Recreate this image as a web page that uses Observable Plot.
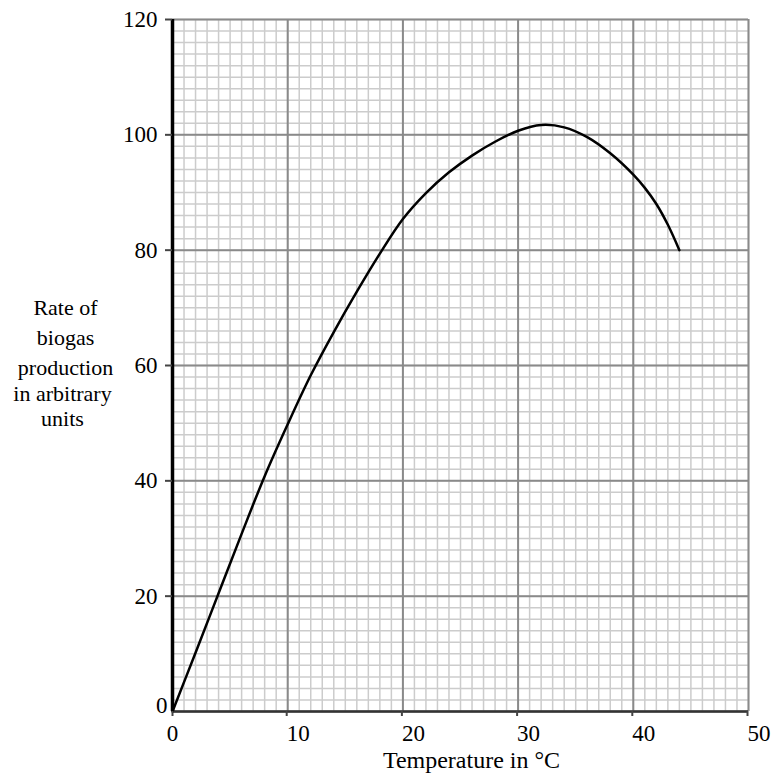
<!DOCTYPE html>
<html>
<head>
<meta charset="utf-8">
<script src="https://cdn.jsdelivr.net/npm/d3@7"></script>
<script src="https://cdn.jsdelivr.net/npm/@observablehq/plot@0.6"></script>
<style>
  html, body { margin: 0; padding: 0; background: #fff; }
</style>
</head>
<body>
<div id="chart"></div>
<script>
// Curve
const temperature = [0, 2, 4, 6, 8, 10, 12, 14, 16, 18, 20, 22, 24, 26, 28, 30, 32, 34, 36, 38, 40, 41, 42, 43, 44];
const rate        = [0, 10.2, 20.5, 30.8, 40.8, 49.8, 58.3, 65.8, 72.8, 79.4, 85.4, 89.9, 93.5, 96.4, 98.8, 100.7, 101.7, 101.3, 99.6, 96.8, 93.1, 90.8, 88.0, 84.4, 80];

// Axis ticks
const xTicks = [0, 10, 20, 30, 40, 50];
const yTicks = [0, 20, 40, 60, 80, 100, 120];
const xMinor = d3.range(0, 51, 1);
const yMinor = d3.range(0, 121, 2);

const xLabel = "Temperature in °C";
const yLabelTop = "Rate of\nbiogas\nproduction";
const yLabelBottom = "in arbitrary\nunits";

const data = temperature.map((t, i) => ({t, r: rate[i]}));

const chart = Plot.plot({
  width: 774,
  height: 784,
  marginLeft: 172,
  marginRight: 26,
  marginTop: 19,
  marginBottom: 73,
  style: {fontFamily: "'Liberation Serif', 'DejaVu Serif', serif", fontSize: "23px", color: "#000", background: "#fff"},
  x: {domain: [0, 50], axis: null},
  y: {domain: [0, 120], axis: null},
  marks: [
    Plot.ruleX(xMinor, {stroke: "#cccccc", strokeWidth: 1.5}),
    Plot.ruleY(yMinor, {stroke: "#cccccc", strokeWidth: 1.5}),
    Plot.ruleX(xTicks, {stroke: "#8a8a8a", strokeWidth: 2}),
    Plot.ruleY(yTicks, {stroke: "#8a8a8a", strokeWidth: 2}),
    Plot.ruleY([0], {stroke: "#333", strokeWidth: 2.5}),
    Plot.ruleX([0], {stroke: "#000", strokeWidth: 3.5}),
    Plot.line(data, {x: "t", y: "r", curve: "catmull-rom", stroke: "#000", strokeWidth: 2.5}),
    Plot.axisX([0], {tickSize: 5, tickPadding: 8, label: null, stroke: "#444", strokeWidth: 2, fontSize: 23}),
    Plot.axisX(xTicks.slice(1), {tickSize: 5, tickPadding: 8, textAnchor: "start", dx: -1, label: null, stroke: "#444", strokeWidth: 2, fontSize: 23}),
    Plot.axisY(yTicks.slice(1), {tickSize: 7, tickPadding: 8, label: null, stroke: "#444", strokeWidth: 2, fontSize: 23}),
    Plot.axisY([0], {tickSize: 0, tickPadding: 5, dy: -6, label: null, fontSize: 23}),
    Plot.text([xLabel], {frameAnchor: "bottom", dx: 11, dy: 56, fontSize: 24}),
    Plot.text([yLabelTop], {frameAnchor: "left", textAnchor: "middle", dx: -107, dy: -30, lineHeight: 1.36, fontSize: 22}),
    Plot.text([yLabelBottom], {frameAnchor: "left", textAnchor: "middle", dx: -110, dy: 40, lineHeight: 1.14, fontSize: 22})
  ]
});
document.getElementById("chart").appendChild(chart);
</script>
</body>
</html>
